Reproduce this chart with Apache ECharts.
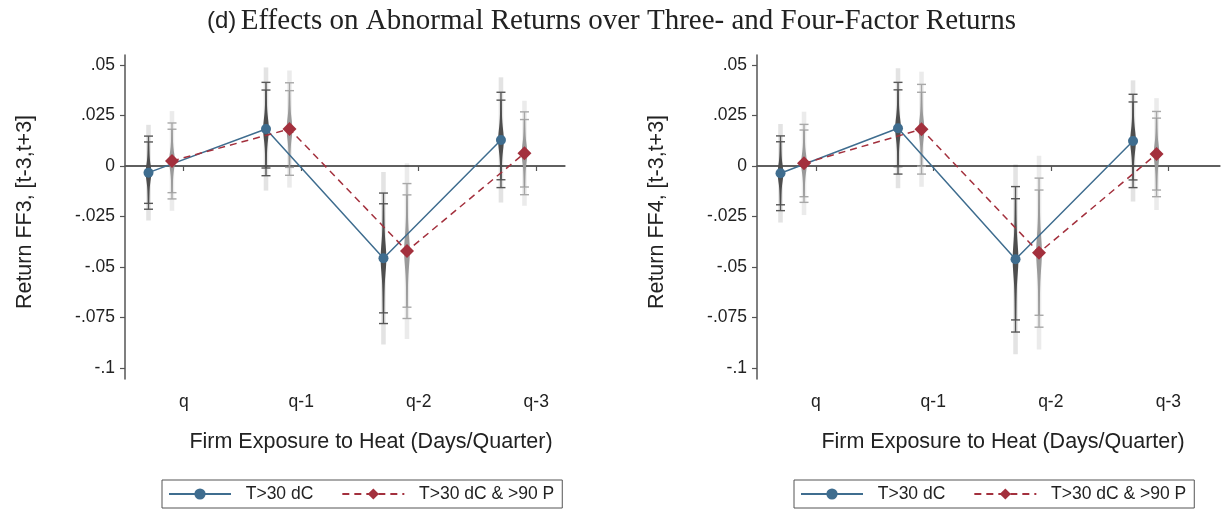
<!DOCTYPE html>
<html>
<head>
<meta charset="utf-8">
<script src="https://cdn.jsdelivr.net/npm/echarts@6/dist/echarts.min.js"></script>
<style>html,body{margin:0;padding:0;background:#fff}#c{width:1223px;height:512px}</style>
</head>
<body>
<div id="c"></div>
<script>
// ---- data ----
const categories = ['q', 'q-1', 'q-2', 'q-3'];
const yTickValues = [-0.1, -0.075, -0.05, -0.025, 0, 0.025, 0.05];
const yTickLabels = ['-.1', '-.075', '-.05', '-.025', '0', '.025', '.05'];
const seriesNames = ['T>30 dC', 'T>30 dC & >90 P'];
const panelTitles = ['Return FF3, [t-3,t+3]', 'Return FF4, [t-3,t+3]'];
const xTitle = 'Firm Exposure to Heat (Days/Quarter)';
const chartTitleTag = '(d)';
const chartTitle = 'Effects on Abnormal Returns over Three- and Four-Factor Returns';

// FF3 panel
const ff3_T30      = [-0.0033, 0.0183, -0.0457, 0.0129];
const ff3_T30_ci90 = [0.0152, 0.0193, 0.0270, 0.0197];
const ff3_T30_ci95 = [0.0181, 0.0231, 0.0323, 0.0236];
const ff3_T30_ci99 = [0.0237, 0.0305, 0.0427, 0.0310];
const ff3_P90      = [0.0025, 0.0183, -0.0421, 0.0063];
const ff3_P90_ci90 = [0.0157, 0.0190, 0.0278, 0.0167];
const ff3_P90_ci95 = [0.0188, 0.0229, 0.0334, 0.0205];
const ff3_P90_ci99 = [0.0247, 0.0290, 0.0435, 0.0260];
// FF4 panel
const ff4_T30      = [-0.0036, 0.0187, -0.0462, 0.0124];
const ff4_T30_ci90 = [0.0156, 0.0190, 0.0300, 0.0193];
const ff4_T30_ci95 = [0.0185, 0.0227, 0.0360, 0.0231];
const ff4_T30_ci99 = [0.0244, 0.0297, 0.0470, 0.0300];
const ff4_P90      = [0.0013, 0.0182, -0.0429, 0.0059];
const ff4_P90_ci90 = [0.0165, 0.0183, 0.0310, 0.0178];
const ff4_P90_ci95 = [0.0193, 0.0222, 0.0369, 0.0211];
const ff4_P90_ci99 = [0.0256, 0.0285, 0.0480, 0.0277];

// ---- styling / layout ----
const BLUE = '#3f6d8f', RED = '#a3303d', AX = '#555555';
const SANS = 'Liberation Sans, Arial, sans-serif';
const offT30 = -0.3, offP90 = -0.1;
const yMin = -0.10545, yMax = 0.05495;
const panels = [
  {left: 125, width: 440, xMax: 4.245, T30: [ff3_T30, ff3_T30_ci90, ff3_T30_ci95, ff3_T30_ci99], P90: [ff3_P90, ff3_P90_ci90, ff3_P90_ci95, ff3_P90_ci99]},
  {left: 757, width: 463, xMax: 4.44,  T30: [ff4_T30, ff4_T30_ci90, ff4_T30_ci95, ff4_T30_ci99], P90: [ff4_P90, ff4_P90_ci90, ff4_P90_ci95, ff4_P90_ci99]}
];

function barData(set, off) {
  return set[0].map((c, i) => [i + 1 + off, c, set[1][i], set[2][i], set[3][i]]);
}
function lineData(set, off) {
  return set[0].map((c, i) => [i + 1 + off, c]);
}

function makeRender(core, cap, light) {
  return function (params, api) {
    const x = api.value(0), c = api.value(1);
    const h90 = api.value(2), h95 = api.value(3), h99 = api.value(4);
    const px = api.coord([x, c])[0];
    const py = (v) => api.coord([x, v])[1];
    const cy = py(c);
    const children = [];
    // faint widest band
    children.push({type: 'rect', shape: {x: px - 2.3, y: py(c + h99), width: 4.6, height: py(c - h99) - py(c + h99)},
      style: {fill: light}});
    // thin line to outer caps
    children.push({type: 'line', shape: {x1: px, y1: py(c + h95), x2: px, y2: py(c - h95)},
      style: {stroke: cap, lineWidth: 1.4}});
    // caps
    [h90, h95].forEach(h => {
      [c + h, c - h].forEach(v => {
        const yy = py(v);
        children.push({type: 'line', shape: {x1: px - 4.5, y1: yy, x2: px + 4.5, y2: yy},
          style: {stroke: cap, lineWidth: 1.4}});
      });
    });
    // spindle shape (taper towards the inner caps)
    const sePx = Math.abs(py(c + h90) - cy) / 1.645;
    const right = [], left = [];
    for (let k = 0; k <= 60; k++) {
      const z = -1.645 + 3.29 * k / 60;
      const w = 0.7 + 0.6 * Math.max(0, 1 - Math.abs(z) / 1.645) + 1.6 * Math.exp(-z * z / 0.35);
      right.push([px + w, cy + z * sePx]);
      left.unshift([px - w, cy + z * sePx]);
    }
    children.push({type: 'polygon', shape: {points: right.concat(left)}, style: {fill: core}});
    return {type: 'group', children};
  };
}

const grid = [], xAxis = [], yAxis = [], series = [], legend = [];
const titles = [{
  text: '{a|' + chartTitleTag + '}{s| }{b|' + chartTitle + '}',
  left: 'center', top: 2,
  textStyle: {fontWeight: 'normal', rich: {
    a: {fontFamily: SANS, fontSize: 24, color: '#222', fontWeight: 'normal'},
    s: {fontFamily: SANS, fontSize: 16, fontWeight: 'normal'},
    b: {fontFamily: 'Liberation Serif, serif', fontSize: 29, color: '#222', fontWeight: 'normal'}
  }}
}];
panels.forEach((p, k) => {
  grid.push({left: p.left, top: 55, width: p.width, height: 324});
  titles.push({
    text: xTitle, left: p.left + 241, top: 426, textAlign: 'center',
    textStyle: {fontFamily: SANS, fontSize: 21.5, color: '#222', fontWeight: 'normal'}
  });
  xAxis.push({
    gridIndex: k, type: 'value', min: 0.5, max: p.xMax,
    axisLine: {show: true, lineStyle: {color: AX, width: 1.5}},
    axisTick: {show: true, inside: false, length: 5, customValues: [1, 2, 3, 4], lineStyle: {color: AX, width: 1.2}},
    axisLabel: {show: true, customValues: [1, 2, 3, 4], margin: 14, fontFamily: SANS, fontSize: 17.5, color: '#222',
      formatter: v => categories[Math.round(v) - 1]},
    splitLine: {show: false}
  });
  yAxis.push({
    gridIndex: k, type: 'value', min: yMin, max: yMax,
    name: panelTitles[k], nameLocation: 'middle', nameGap: 100, nameRotate: 90,
    nameTextStyle: {fontFamily: SANS, fontSize: 21.5, color: '#222', verticalAlign: 'middle', padding: [0, 0, 0, 10]},
    axisLine: {show: true, lineStyle: {color: AX, width: 1.5}},
    axisTick: {show: true, inside: false, length: 5, customValues: yTickValues, lineStyle: {color: AX, width: 1.2}},
    axisLabel: {show: true, customValues: yTickValues, margin: 10, fontFamily: SANS, fontSize: 17.5, color: '#222',
      formatter: v => { const i = yTickValues.findIndex(t => Math.abs(t - v) < 1e-9); return i >= 0 ? yTickLabels[i] : ''; }},
    splitLine: {show: false}
  });
  series.push({
    type: 'line', name: 'zero' + k, xAxisIndex: k, yAxisIndex: k, silent: true, z: 1,
    data: [[0.5, 0], [p.xMax, 0]], symbol: 'none', lineStyle: {color: AX, width: 1.5}
  });
  series.push({type: 'custom', name: 'ciT30' + k, xAxisIndex: k, yAxisIndex: k, z: 2, silent: true,
    renderItem: makeRender('#4e4e4e', '#575757', 'rgba(0,0,0,0.11)'), data: barData(p.T30, offT30)});
  series.push({type: 'custom', name: 'ciP90' + k, xAxisIndex: k, yAxisIndex: k, z: 2, silent: true,
    renderItem: makeRender('#9a9a9a', '#a8a8a8', 'rgba(0,0,0,0.08)'), data: barData(p.P90, offP90)});
  series.push({type: 'line', name: seriesNames[0], xAxisIndex: k, yAxisIndex: k, z: 3,
    data: lineData(p.T30, offT30), symbol: 'circle', symbolSize: 10,
    lineStyle: {color: BLUE, width: 1.5, type: 'solid'}, itemStyle: {color: BLUE}});
  series.push({type: 'line', name: seriesNames[1], xAxisIndex: k, yAxisIndex: k, z: 3,
    data: lineData(p.P90, offP90), symbol: 'diamond', symbolSize: [14, 14],
    lineStyle: {color: RED, width: 1.5, type: [7, 5]}, itemStyle: {color: RED}});
  legend.push({
    left: p.left + 37, top: 480, orient: 'horizontal',
    data: seriesNames.map(n => ({name: n})),
    itemWidth: 62, itemHeight: 14, itemGap: 28,
    padding: [5, 8, 5, 6], borderColor: AX, borderWidth: 1, borderRadius: 0,
    formatter: n => '\u00a0\u00a0' + n,
    textStyle: {fontFamily: SANS, fontSize: 17.5, color: '#222'},
    selectedMode: false
  });
});

const chart = echarts.init(document.getElementById('c'), null, {renderer: 'canvas'});
chart.setOption({
  animation: false,
  backgroundColor: '#ffffff',
  title: titles,
  grid, xAxis, yAxis, series, legend
});
</script>
</body>
</html>
